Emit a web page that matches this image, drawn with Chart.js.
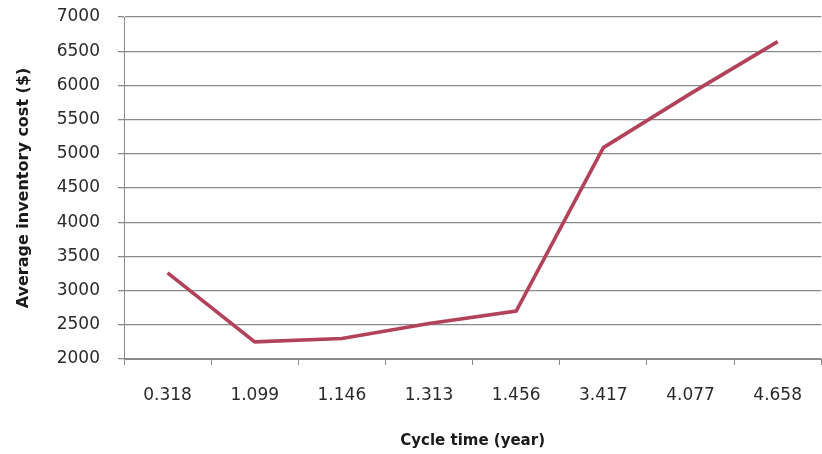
<!DOCTYPE html>
<html>
<head>
<meta charset="utf-8">
<script src="https://cdn.jsdelivr.net/npm/chart.js@4"></script>
<style>
  html, body { margin: 0; padding: 0; background: #fff; }
  #wrap { width: 822px; height: 454px; }
</style>
</head>
<body>
<div id="wrap"><canvas id="cost-chart" width="822" height="454"></canvas></div>
<script>
// cycle time (year) vs average inventory cost ($)
const cycleTimes = ['0.318', '1.099', '1.146', '1.313', '1.456', '3.417', '4.077', '4.658'];
const avgCost = [3260, 2250, 2300, 2520, 2700, 5090, 5880, 6640];
const yTicks = [2000, 2500, 3000, 3500, 4000, 4500, 5000, 5500, 6000, 6500, 7000];

const gridColor = '#8a8a8a';
const textColor = '#2a2a2a';

const ctx = document.getElementById('cost-chart').getContext('2d');

new Chart(ctx, {
    type: 'line',
    data: {
        labels: cycleTimes,
        datasets: [{
            label: 'Average inventory cost',
            data: avgCost,
            borderColor: '#b2425a',
            borderWidth: 3.6,
            pointRadius: 0,
            tension: 0,
            fill: false
        }]
    },
    options: {
        responsive: false,
        animation: false,
        layout: { padding: { top: 0, right: 0, left: 14, bottom: 4 } },
        plugins: {
            legend: { display: false },
            tooltip: { enabled: false }
        },
        scales: {
            x: {
                type: 'category',
                offset: true,
                grid: {
                    display: true,
                    offset: true,
                    drawOnChartArea: false,
                    color: gridColor,
                    tickLength: 6
                },
                border: { color: gridColor, width: 1 },
                ticks: {
                    color: textColor,
                    font: { family: 'DejaVu Sans', size: 17 },
                    padding: 20,
                    maxRotation: 0
                },
                title: {
                    display: true,
                    text: 'Cycle time (year)',
                    color: '#1a1a1a',
                    font: { family: 'DejaVu Sans', size: 15, weight: 'bold' },
                    padding: { top: 12, bottom: 0 }
                },
                afterFit: scale => { scale.height = 91; }
            },
            y: {
                min: 2000,
                max: 7000,
                afterBuildTicks: scale => { scale.ticks = yTicks.map(v => ({ value: v })); },
                grid: {
                    color: gridColor,
                    lineWidth: 1.3,
                    tickLength: 6
                },
                border: { color: gridColor, width: 1 },
                ticks: {
                    color: textColor,
                    font: { family: 'DejaVu Sans', size: 17 },
                    padding: 18,
                    callback: v => String(v)
                },
                title: {
                    display: true,
                    text: 'Average inventory cost ($)',
                    color: '#1a1a1a',
                    font: { family: 'DejaVu Sans', size: 16, weight: 'bold' },
                    padding: { top: 0, bottom: 4 }
                },
                afterFit: scale => {
                    scale.width = 110;
                    scale.paddingTop = 17;
                    scale.paddingBottom = 0;
                }
            }
        }
    }
});
</script>
</body>
</html>
